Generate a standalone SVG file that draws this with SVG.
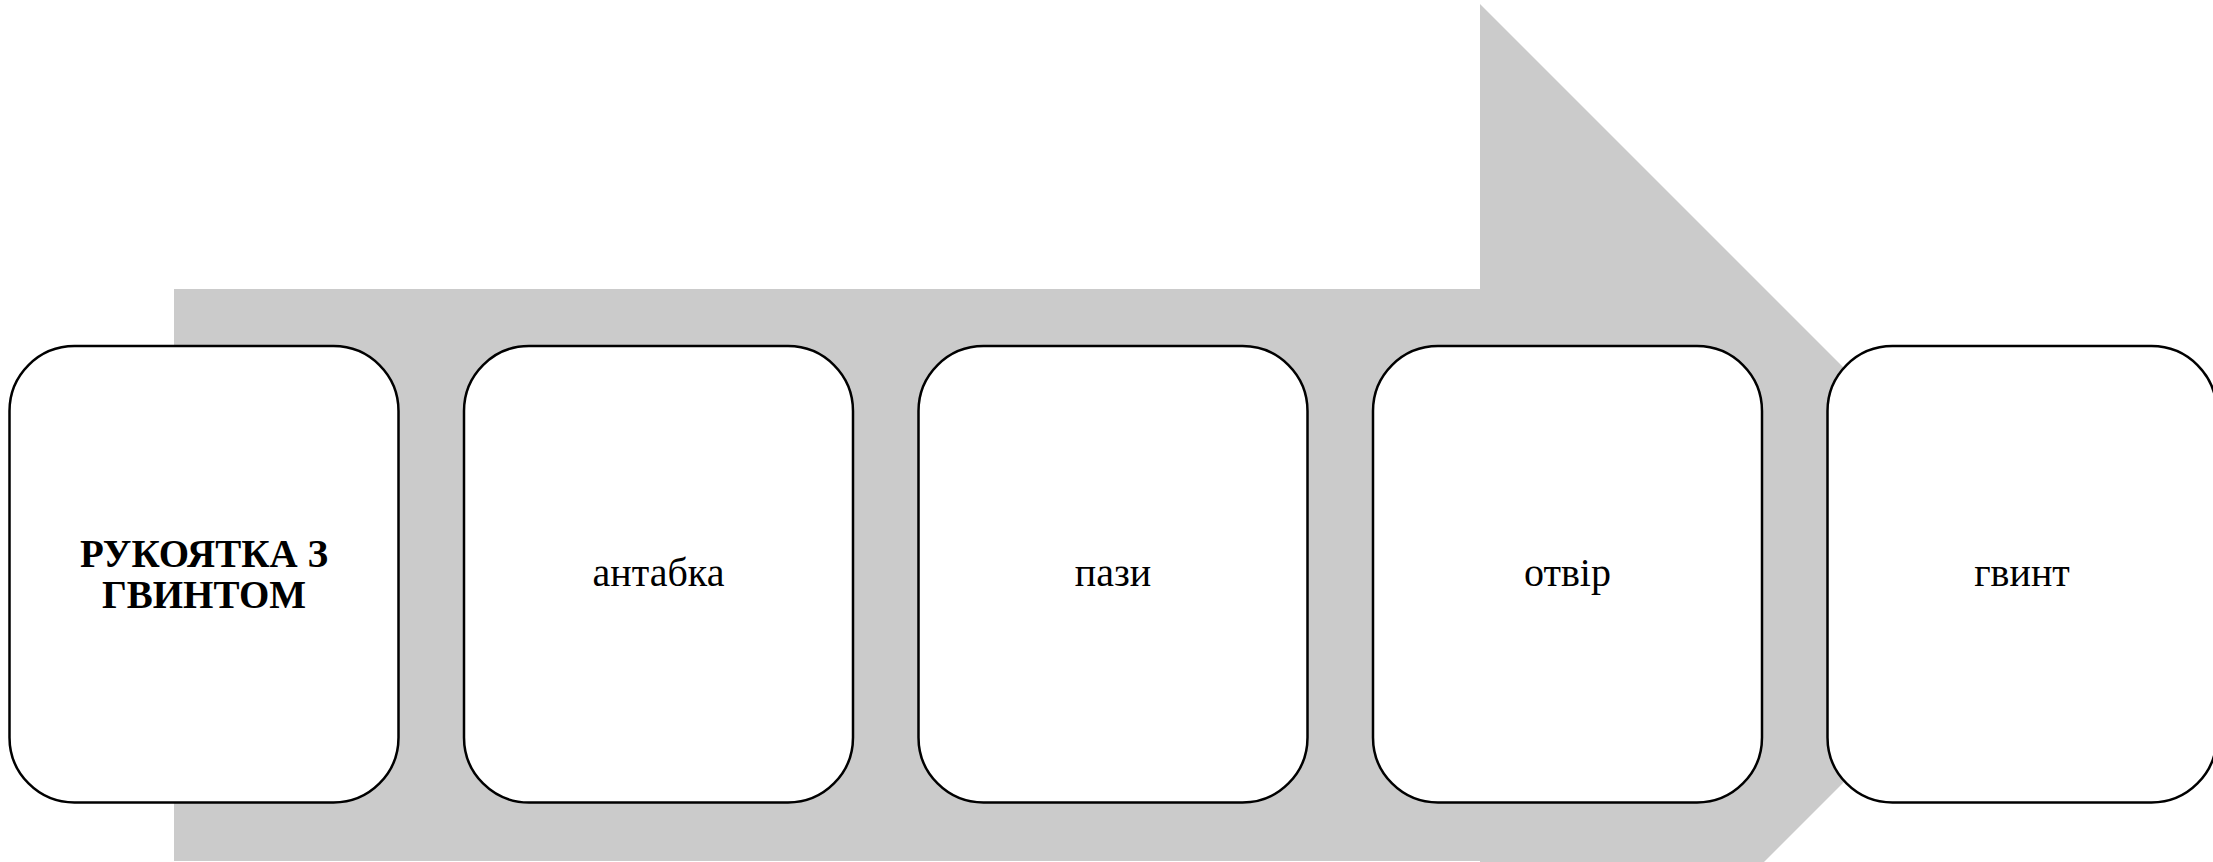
<svg xmlns="http://www.w3.org/2000/svg" width="2213" height="862" viewBox="0 0 2213 862">
<style>
.box{fill:#ffffff;stroke:#000000;stroke-width:2.5}
.t{font-family:"Liberation Serif","Times New Roman",serif;font-size:40px;fill:#000000;text-anchor:middle}
.b{font-weight:bold;font-size:39px}
</style>
<rect width="2213" height="862" fill="#ffffff"/>
<g id="connectors">
<polygon id="arrow" points="174,289 1480,289 1480,4 2051,575 1480,1146 1480,861 174,861" fill="#cbcbcb"/>
</g>
<g id="node1">
<rect class="box" x="9.5" y="346" width="389" height="456.5" rx="65" ry="65"/>
<text class="t b" x="204" y="567">РУКОЯТКА З</text>
<text class="t b" x="204" y="608">ГВИНТОМ</text>
</g>
<g id="node2">
<rect class="box" x="464" y="346" width="389" height="456.5" rx="65" ry="65"/>
<text class="t" x="658.5" y="586">антабка</text>
</g>
<g id="node3">
<rect class="box" x="918.5" y="346" width="389" height="456.5" rx="65" ry="65"/>
<text class="t" x="1113" y="586">пази</text>
</g>
<g id="node4">
<rect class="box" x="1373" y="346" width="389" height="456.5" rx="65" ry="65"/>
<text class="t" x="1567.5" y="586">отвір</text>
</g>
<g id="node5">
<rect class="box" x="1827.5" y="346" width="389" height="456.5" rx="65" ry="65"/>
<text class="t" x="2022" y="586">гвинт</text>
</g>
</svg>
